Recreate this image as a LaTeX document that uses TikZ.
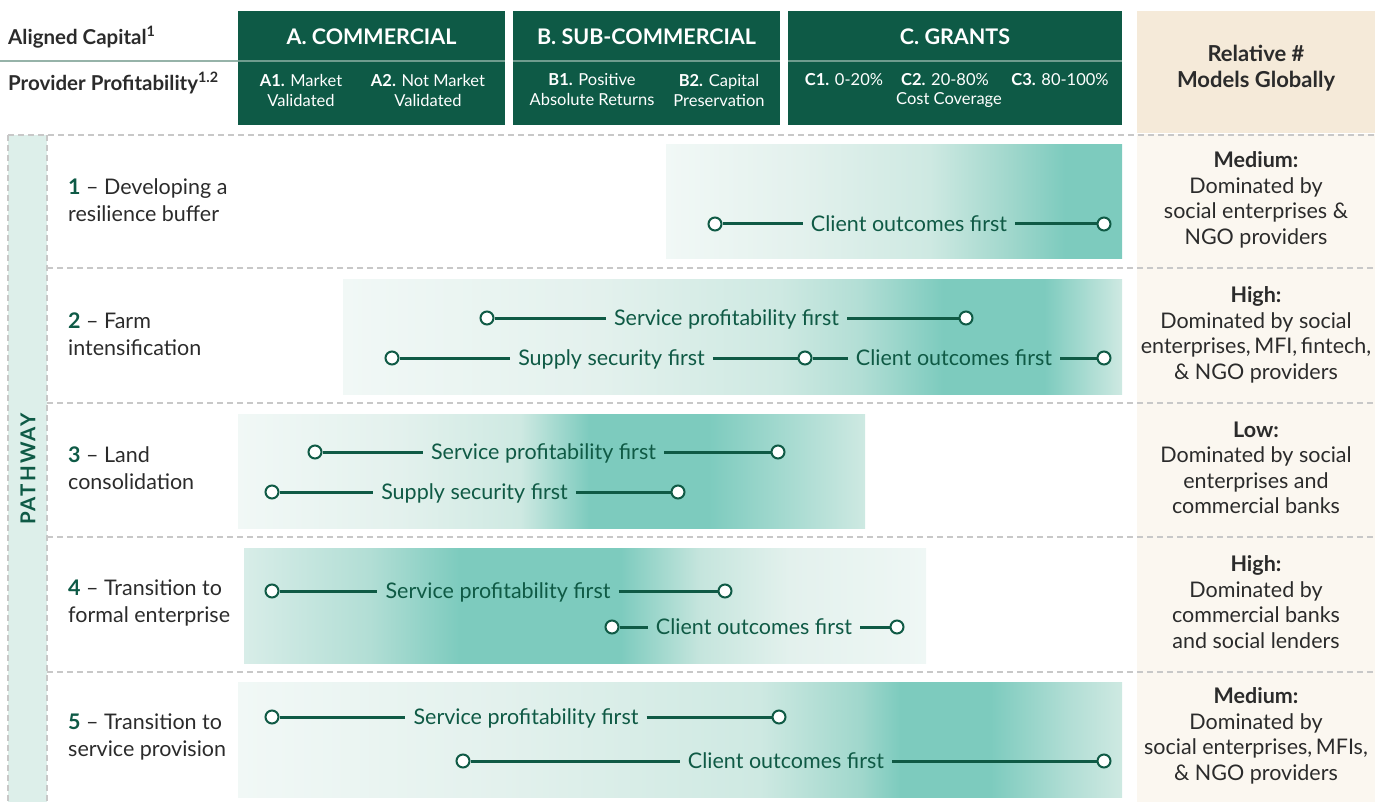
\documentclass[tikz,border=0pt]{standalone}
\usepackage{fontspec}
\setmainfont{Lato}
\definecolor{hdrgreen}{HTML}{0E5A46}
\definecolor{linegreen}{HTML}{0F5A45}
\definecolor{hsepc}{HTML}{6F9C8E}
\definecolor{lsepc}{HTML}{96B3A9}
\definecolor{txtdark}{HTML}{2B2B2B}
\definecolor{pathfill}{HTML}{DDEFEA}
\definecolor{beigehdr}{HTML}{F5EAD9}
\definecolor{beigecol}{HTML}{FBF7F0}
\definecolor{dashc}{HTML}{C8C8C8}
\definecolor{tpk}{HTML}{7DCBBE}
\definecolor{tl0}{HTML}{F1F8F6}
\definecolor{tl1}{HTML}{E3F1ED}
\definecolor{tl2}{HTML}{CEE9E2}
\definecolor{tl3}{HTML}{B2DED5}
\definecolor{tl4}{HTML}{A0D7CC}
\definecolor{tl5}{HTML}{D8EDE8}
\definecolor{tl6}{HTML}{C5E5DD}
\definecolor{tl7}{HTML}{EFF7F5}
\pgfdeclarehorizontalshading{rowA}{100bp}{color(0bp)=(tl0); color(25bp)=(tl0); color(39.7bp)=(tl1); color(53.9bp)=(tl2); color(62.7bp)=(tl4); color(68.75bp)=(tpk); color(75bp)=(tpk); color(100bp)=(tpk)}
\pgfdeclarehorizontalshading{rowB}{100bp}{color(0bp)=(tl0); color(25bp)=(tl0); color(41.5bp)=(tl1); color(53bp)=(tl2); color(58.2bp)=(tl3); color(63.5bp)=(tpk); color(70bp)=(tpk); color(75bp)=(tl2); color(100bp)=(tl2)}
\pgfdeclarehorizontalshading{rowC}{100bp}{color(0bp)=(tl0); color(25bp)=(tl0); color(37.9bp)=(tl1); color(47.5bp)=(tl2); color(53bp)=(tpk); color(62.5bp)=(tpk); color(75bp)=(tl2); color(100bp)=(tl2)}
\pgfdeclarehorizontalshading{rowD}{100bp}{color(0bp)=(tl5); color(25bp)=(tl5); color(34.2bp)=(tl3); color(40.8bp)=(tpk); color(52.6bp)=(tpk); color(58.4bp)=(tl6); color(65bp)=(tl1); color(75bp)=(tl7); color(100bp)=(tl7)}
\pgfdeclarehorizontalshading{rowE}{100bp}{color(0bp)=(tl0); color(25bp)=(tl0); color(39.8bp)=(tl1); color(54.5bp)=(tl2); color(60.2bp)=(tl4); color(62.45bp)=(tpk); color(67.55bp)=(tpk); color(72.05bp)=(tl3); color(75bp)=(tl2); color(100bp)=(tl2)}
\tikzset{
  hdrbox/.style={fill=hdrgreen, draw=none, inner sep=0},
  htitle/.style={text=white, font=\fontsize{21.5}{24}\selectfont\bfseries, inner sep=0},
  hsub/.style={text=white, font=\fontsize{16.5}{20}\selectfont, align=center, inner sep=0},
  lefthdr/.style={text=txtdark, font=\fontsize{20.5}{24}\selectfont\bfseries, anchor=west, inner sep=0},
  rowlbl/.style={text=txtdark, font=\fontsize{21.5}{26.5}\selectfont, align=left, anchor=west, inner sep=0},
  rightlbl/.style={text=txtdark, font=\fontsize{21.5}{25.5}\selectfont, align=center, inner sep=0},
  btxt/.style={text=linegreen, font=\fontsize{21.5}{24}\selectfont, anchor=base, inner xsep=8pt, inner ysep=0},
  dot/.style={circle, draw=linegreen, fill=white, line width=2pt, minimum size=13pt, inner sep=0},
  conn/.style={draw=linegreen, line width=3pt},
  dashln/.style={draw=dashc, line width=1.5pt, dash pattern=on 6pt off 4pt},
}
\newcommand{\nb}[1]{\textbf{\color{hdrgreen}#1}}
\begin{document}
\begin{tikzpicture}[x=1pt,y=-1pt]
\useasboundingbox (0,0) rectangle (1375,802);
% backgrounds
\fill[beigehdr] (1137,11) rectangle (1375,133);
\fill[beigecol] (1137,134) rectangle (1375,802);
\fill[pathfill] (8,135) rectangle (47,802);
% header boxes
\node[hdrbox, minimum width=267pt, minimum height=114pt] (hA) at (371.5,68) {};
\node[hdrbox, minimum width=267pt, minimum height=114pt] (hB) at (646.5,68) {};
\node[hdrbox, minimum width=334pt, minimum height=114pt] (hC) at (955,68) {};
\draw[hsepc, line width=2pt] (238,61) -- (505,61) (513,61) -- (780,61) (788,61) -- (1122,61);
\draw[lsepc, line width=2pt] (0,61) -- (238,61);
\node[htitle] (tA) at (371.5,37) {A. COMMERCIAL};
\node[htitle] (tB) at (646.5,37) {B. SUB-COMMERCIAL};
\node[htitle] (tC) at (955,37) {C. GRANTS};
\node[hsub] (sA1) at (301,90) {\textbf{A1.} Market\\Validated};
\node[hsub] (sA2) at (428,90) {\textbf{A2.} Not Market\\Validated};
\node[hsub] (sB1) at (592,90) {\textbf{B1.} Positive\\Absolute Returns};
\node[hsub] (sB2) at (719,90) {\textbf{B2.} Capital\\Preservation};
\node[hsub] (sC1) at (844,80) {\textbf{C1.} 0-20\%};
\node[hsub] (sC2) at (945,80) {\textbf{C2.} 20-80\%};
\node[hsub] (sC3) at (1060,80) {\textbf{C3.} 80-100\%};
\node[hsub] (sCc) at (949,100) {Cost Coverage};
\node[lefthdr] (lh1) at (8,37) {Aligned Capital\textsuperscript{1}};
\node[lefthdr] (lh2) at (8,83) {Provider Profitability\textsuperscript{1.2}};
\node[text=txtdark, font=\fontsize{22}{26}\selectfont\bfseries, align=center, inner sep=0] (rh) at (1256,68) {Relative \#\\Models Globally};
% dashed grid
\draw[dashln] (8,135) -- (1375,135);
\draw[dashln] (8,135) -- (8,802);
\draw[dashln] (47,135) -- (47,802);
\foreach \yy in {268,403,537,672} \draw[dashln] (47,\yy) -- (1375,\yy);
\node[rotate=90, text=hdrgreen, font=\fontsize{20.5}{24}\selectfont\bfseries\addfontfeatures{LetterSpace=10}, inner sep=0] (pw) at (28,469) {PATHWAY};
% gradient bars
\shade[shading=rowA] (666,145) rectangle (1122,259);
\shade[shading=rowB] (343,279) rectangle (1122,394);
\shade[shading=rowC] (238,414) rectangle (865,528);
\shade[shading=rowD] (244,548) rectangle (926,663);
\shade[shading=rowE] (238,682) rectangle (1122,797);
% row labels
\node[rowlbl] (l1) at (68,200) {\nb{1} – Developing a\\resilience buffer};
\node[rowlbl] (l2) at (68,334) {\nb{2} – Farm\\intensification};
\node[rowlbl] (l3) at (68,468) {\nb{3} – Land\\consolidation};
\node[rowlbl] (l4) at (68,603) {\nb{4} – Transition to\\formal enterprise};
\node[rowlbl] (l5) at (68,737) {\nb{5} – Transition to\\service provision};
% right labels
\node[rightlbl] (r1) at (1256,200) {\textbf{Medium:}\\Dominated by\\social enterprises \&\\NGO providers};
\node[rightlbl] (r2) at (1256,335) {\textbf{High:}\\Dominated by social\\enterprises,\,MFI,\,fintech,\\\& NGO providers};
\node[rightlbl] (r3) at (1256,468) {\textbf{Low:}\\Dominated by social\\enterprises and\\commercial banks};
\node[rightlbl] (r4) at (1256,602) {\textbf{High:}\\Dominated by\\commercial banks\\and social lenders};
\node[rightlbl] (r5) at (1256,736) {\textbf{Medium:}\\Dominated by\\social enterprises,\,MFIs,\\\& NGO providers};
% row 1
\node[dot] (a1) at (715,224) {};
\node[dot] (a2) at (1104,224) {};
\node[btxt] (at) at (909,231.5) {Client outcomes first};
\draw[conn] (a1) -- (a1 -| at.west);
\draw[conn] (at.east |- a2) -- (a2);
% row 2
\node[dot] (b1) at (487,318) {};
\node[dot] (b2) at (966,318) {};
\node[btxt] (bt) at (726.5,325.5) {Service profitability first};
\draw[conn] (b1) -- (b1 -| bt.west);
\draw[conn] (bt.east |- b2) -- (b2);
\node[dot] (c1) at (392,358) {};
\node[dot] (c2) at (805,358) {};
\node[dot] (c3) at (1104,358) {};
\node[btxt] (ct) at (611.5,365.5) {Supply security first};
\node[btxt] (dt) at (954,365.5) {Client outcomes first};
\draw[conn] (c1) -- (c1 -| ct.west);
\draw[conn] (ct.east |- c2) -- (c2);
\draw[conn] (c2) -- (c2 -| dt.west);
\draw[conn] (dt.east |- c3) -- (c3);
% row 3
\node[dot] (e1) at (315,452) {};
\node[dot] (e2) at (778,452) {};
\node[btxt] (et) at (543.5,459.5) {Service profitability first};
\draw[conn] (e1) -- (e1 -| et.west);
\draw[conn] (et.east |- e2) -- (e2);
\node[dot] (f1) at (272,492) {};
\node[dot] (f2) at (678,492) {};
\node[btxt] (ft) at (474.5,499.5) {Supply security first};
\draw[conn] (f1) -- (f1 -| ft.west);
\draw[conn] (ft.east |- f2) -- (f2);
% row 4
\node[dot] (g1) at (272,591) {};
\node[dot] (g2) at (725,591) {};
\node[btxt] (gt) at (498,598.5) {Service profitability first};
\draw[conn] (g1) -- (g1 -| gt.west);
\draw[conn] (gt.east |- g2) -- (g2);
\node[dot] (h1) at (612,627) {};
\node[dot] (h2) at (897,627) {};
\node[btxt] (ht) at (754,634.5) {Client outcomes first};
\draw[conn] (h1) -- (h1 -| ht.west);
\draw[conn] (ht.east |- h2) -- (h2);
% row 5
\node[dot] (i1) at (272,717) {};
\node[dot] (i2) at (779,717) {};
\node[btxt] (it) at (526,724.5) {Service profitability first};
\draw[conn] (i1) -- (i1 -| it.west);
\draw[conn] (it.east |- i2) -- (i2);
\node[dot] (j1) at (463,761) {};
\node[dot] (j2) at (1104,761) {};
\node[btxt] (jt) at (786,768.5) {Client outcomes first};
\draw[conn] (j1) -- (j1 -| jt.west);
\draw[conn] (jt.east |- j2) -- (j2);
\end{tikzpicture}
\end{document}
